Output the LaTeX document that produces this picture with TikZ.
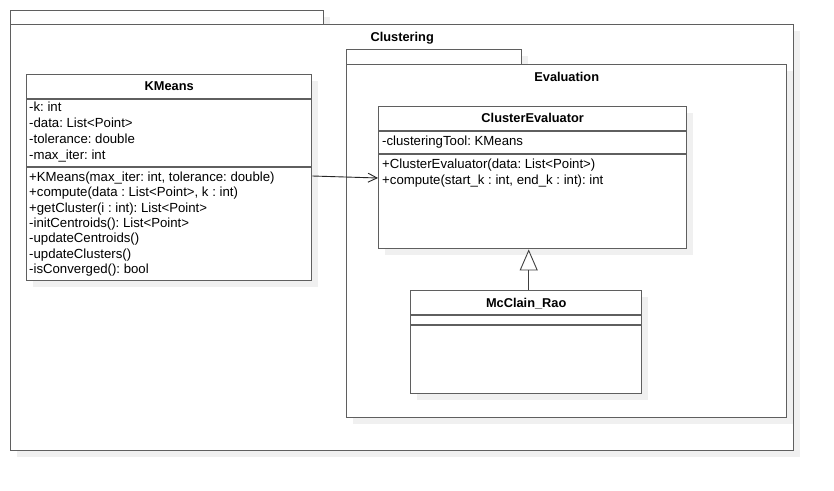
\documentclass[tikz,border=0pt]{standalone}
\usepackage{fontspec}
\setmainfont{Liberation Sans}
\frenchspacing
\usetikzlibrary{positioning}
\usetikzlibrary{shadows}
\usetikzlibrary{arrows.meta}
\definecolor{umlline}{RGB}{95,95,95}
\definecolor{umlshade}{RGB}{240,240,240}
\tikzset{umlbox/.style = {draw = umlline, line width = 1.4pt, fill = white, inner sep = 0, anchor = north west,
    drop shadow = {shadow xshift = 6pt, shadow yshift = -6pt, fill = umlshade, opacity = 1}}}
\tikzset{classtitle/.style = {font = \bfseries\fontsize{12.8}{14}\selectfont, anchor = base, inner sep = 0}}
\tikzset{member/.style = {font = \fontsize{13.2}{15}\selectfont, anchor = base west, inner sep = 0}}
\tikzset{sep/.style = {draw = umlline, line width = 1.2pt}}

\begin{document}
\begin{tikzpicture}[x = 1pt, y = -1pt]
      \useasboundingbox (0, 0) rectangle (834, 490);
      % packages
      \node [umlbox, minimum width = 313pt, minimum height = 14pt] (clutab) at (10, 10) {};
      \node [umlbox, minimum width = 783pt, minimum height = 426pt] (clu) at (10, 24) {};
      \node [classtitle] (clutitle) at ([yshift = -17.5pt] clu.north) {Clustering};
      \node [umlbox, minimum width = 175pt, minimum height = 15pt] (evaltab) at (346, 49) {};
      \node [umlbox, minimum width = 440pt, minimum height = 353pt] (eval) at (346, 64) {};
      \node [classtitle] (evaltitle) at ([yshift = -17.5pt] eval.north) {Evaluation};
      % KMeans
      \node [umlbox, minimum width = 285pt, minimum height = 206pt] (kmeans) at (26, 74) {};
      \node [classtitle] (kmeanstitle) at ([yshift = -16.5pt] kmeans.north) {KMeans};
      \draw [sep] ([yshift = -25pt] kmeans.north west) -- ([yshift = -25pt] kmeans.north east);
      \draw [sep] ([yshift = -93pt] kmeans.north west) -- ([yshift = -93pt] kmeans.north east);
      \foreach \txt [count = \i] in {-k: int, -data: List<Point>, -tolerance: double, -max\_iter: int} {
        \node [member] (katt\i) at (29, 95.5 + 16 * \i) {\txt};
      }
      \foreach \txt [count = \i] in {{+KMeans(max\_iter: int, tolerance: double)}, {+compute(data : List<Point>, k : int)},
          +getCluster(i : int): List<Point>, -initCentroids(): List<Point>, -updateCentroids(),
          -updateClusters(), -isConverged(): bool} {
        \node [member] (kop\i) at (29, 166.2 + 15.33 * \i) {\txt};
      }
      % ClusterEvaluator
      \node [umlbox, minimum width = 308pt, minimum height = 142pt] (ce) at (378, 106) {};
      \node [classtitle] (cetitle) at ([yshift = -16.5pt] ce.north) {ClusterEvaluator};
      \draw [sep] ([yshift = -25pt] ce.north west) -- ([yshift = -25pt] ce.north east);
      \draw [sep] ([yshift = -48pt] ce.north west) -- ([yshift = -48pt] ce.north east);
      \node [member] (ceatt) at (382, 145.5) {-clusteringTool: KMeans};
      \node [member] (ceop1) at (382, 168.5) {+ClusterEvaluator(data: List<Point>)};
      \node [member] (ceop2) at (382, 184.5) {+compute(start\_k : int, end\_k : int): int};
      % McClain_Rao
      \node [umlbox, minimum width = 231pt, minimum height = 103pt] (mcr) at (410, 290) {};
      \node [classtitle] (mcrtitle) at ([yshift = -17.5pt] mcr.north) {McClain\_Rao};
      \draw [sep] ([yshift = -25pt] mcr.north west) -- ([yshift = -25pt] mcr.north east);
      \draw [sep] ([yshift = -35pt] mcr.north west) -- ([yshift = -35pt] mcr.north east);
      % relations
      \draw [black!85, line width = 0.9pt, -{Straight Barb[length = 9pt, width = 9pt]}]
        ([yshift = -102pt] kmeans.north east) -- ([yshift = -72pt] ce.north west);
      \draw [black!75, line width = 0.9pt, -{Triangle[open, fill = white, length = 21pt, width = 18pt]}]
        ([xshift = 2.5pt] mcr.north) -- ([xshift = 2.5pt] mcr.north |- ce.south);
    \end{tikzpicture}
\end{document}
